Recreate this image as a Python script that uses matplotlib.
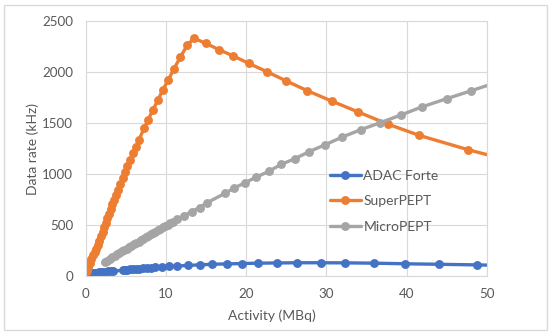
import matplotlib
matplotlib.use("Agg")
import matplotlib.pyplot as plt
from matplotlib.patches import Rectangle

# ---------------- data ----------------
adac_x = [0.0, 0.2, 0.4, 0.6, 0.8, 1.0, 1.3, 1.6, 1.9, 2.2, 2.5, 2.8, 3.1, 3.4,
          4.6, 4.9, 5.2, 5.5, 5.9, 6.3, 6.7, 7.1, 7.6, 8.1, 8.6, 9.5, 10.4, 11.4,
          12.8, 14.25, 15.8, 17.6, 19.45, 21.5, 23.8, 26.4, 29.3, 32.3, 35.9,
          39.8, 44.0, 48.75, 54.5]
adac_y = [0, 8, 14, 20, 25, 28, 32, 36, 38, 40, 42, 45, 47, 49,
          55, 58, 61, 64, 67, 70, 73, 76, 79, 82, 85, 90, 94, 98,
          104, 110, 115, 119, 122, 126, 128, 130, 130, 129, 126,
          120, 115, 109, 100]

super_x = [0.1, 0.3, 0.5, 0.7, 0.9, 1.1, 1.3, 1.5, 1.7, 1.9, 2.1, 2.3, 2.5, 2.7,
           2.9, 3.1, 3.3, 3.5, 3.75, 4.0, 4.3, 4.6, 4.9, 5.2, 5.55, 5.9, 6.25,
           6.6, 7.27, 7.8, 8.35, 9.0, 9.6, 10.3, 11.0, 11.8, 12.65, 13.5, 15.0,
           16.6, 18.4, 20.35, 22.6, 25.0, 27.65, 30.7, 34.0, 37.66, 41.6, 47.7,
           54.5]
super_y = [45, 90, 130, 170, 205, 235, 265, 300, 340, 390, 435, 480, 525, 565,
           610, 660, 705, 750, 795, 845, 905, 960, 1025, 1075, 1140, 1210, 1265,
           1330, 1448, 1535, 1627, 1725, 1824, 1925, 2033, 2147, 2264, 2333, 2283,
           2222, 2160, 2086, 2005, 1915, 1818, 1716, 1609, 1491, 1380, 1239,
           1100]

micro_x = [2.4, 2.7, 3.0, 3.3, 3.6, 3.9, 4.2, 4.5, 4.8, 5.1, 5.4, 5.7, 6.0, 6.3,
           6.6, 6.9, 7.2, 7.5, 7.8, 8.1, 8.4, 8.7, 9.0, 9.3, 9.6, 9.9, 10.2,
           10.5, 10.9, 11.4, 12.2, 13.2, 14.2, 15.1, 17.4, 18.5, 19.9, 21.25,
           22.8, 24.35, 26.1, 27.9, 29.9, 32.0, 34.3, 36.7, 39.3, 41.9, 45.0,
           48.1, 51.3]
micro_y = [135, 151, 167, 182, 197, 212, 226, 241, 255, 268, 283, 296, 311, 324,
           338, 353, 366, 380, 395, 408, 422, 436, 450, 463, 477, 491, 504,
           518, 534, 557, 590, 632, 672, 718, 813, 862, 917, 970,
           1026, 1095, 1152, 1222, 1290, 1364, 1436, 1504, 1580, 1659, 1740,
           1819, 1902]

series_names = ["ADAC Forte", "SuperPEPT", "MicroPEPT"]
series_colors = ["#4472C4", "#ED7D31", "#A5A5A5"]
x_ticks = [0, 10, 20, 30, 40, 50]
y_ticks = [0, 500, 1000, 1500, 2000, 2500]

# ---------------- figure ----------------
plt.rcParams['font.family'] = ['Lato', 'DejaVu Sans']
W, H = 550, 335
fig = plt.figure(figsize=(W / 100, H / 100), dpi=100)
fig.patch.set_facecolor("white")

# chart area border
fig.patches.append(Rectangle((3.5 / W, 5 / H), 543 / W, 325.5 / H,
                             transform=fig.transFigure, fill=False,
                             edgecolor="#d9d9d9", linewidth=1.0))

left, right, top, bottom = 85.7, 486.7, 21.3, 276.0
ax = fig.add_axes([left / W, 1 - bottom / H, (right - left) / W, (bottom - top) / H])

grid_c = "#d9d9d9"
text_c = "#595959"

for xs, ys, name, col in zip([adac_x, super_x, micro_x], [adac_y, super_y, micro_y],
                             series_names, series_colors):
    ax.plot(xs, ys, color=col, linewidth=2.4, marker="o", markersize=6.4,
            markeredgewidth=0, label=name, solid_capstyle="round")

ax.set_xlim(0, 50)
ax.set_ylim(0, 2500)
ax.set_xticks(x_ticks)
ax.set_yticks(y_ticks)
ax.grid(True, color=grid_c, linewidth=0.8)
ax.set_axisbelow(True)
for s in ax.spines.values():
    s.set_color(grid_c)
    s.set_linewidth(0.8)
ax.tick_params(axis="both", length=0, labelsize=9.6, labelcolor=text_c)
ax.tick_params(axis="y", pad=9.0)
ax.tick_params(axis="x", pad=9.0)

fig.text(33 / W, 1 - 149 / H, "Data rate (kHz)", rotation=90, ha="center",
         va="center", fontsize=10, color=text_c)
fig.text(272 / W, 1 - 316 / H, "Activity (MBq)", ha="center", va="center",
         fontsize=10, color=text_c)

leg = ax.legend(loc="upper left", bbox_to_anchor=(330 / W, 1 - 170 / H),
                bbox_transform=fig.transFigure, frameon=False, fontsize=10,
                handlelength=2.2, handletextpad=0.2, labelspacing=0.96,
                borderpad=0, borderaxespad=0)
for t in leg.get_texts():
    t.set_color(text_c)

fig.savefig("out.png", dpi=100, facecolor="white")
